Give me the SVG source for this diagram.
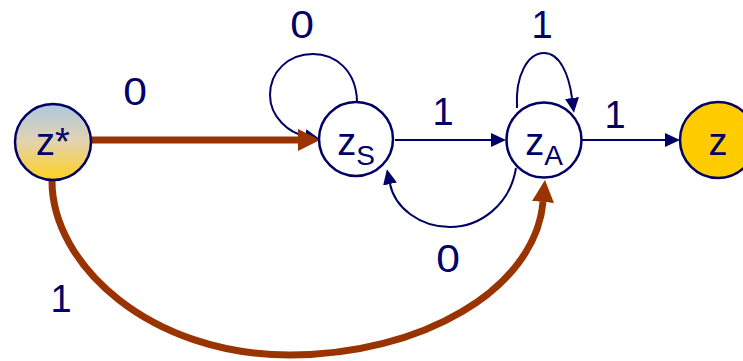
<svg xmlns="http://www.w3.org/2000/svg" width="743" height="361" viewBox="0 0 743 361">
<style>
.node{stroke:#000066;stroke-width:2.5}
.lbl{font-family:"Liberation Sans",Arial,sans-serif;font-size:38px;fill:#000066;text-anchor:middle}
.ntxt{font-family:"Liberation Sans",Arial,sans-serif;font-size:38px;fill:#000066;text-anchor:middle}
.nav{fill:none;stroke:#000066;stroke-width:2}
.brn{fill:none;stroke:#993300;stroke-width:7}
</style>
<defs>
<linearGradient id="g" x1="0" y1="0" x2="0" y2="1">
<stop offset="0" stop-color="#AEC8DF"/>
<stop offset="0.5" stop-color="#E3D3AE"/>
<stop offset="1" stop-color="#FFD11C"/>
</linearGradient>
<marker id="an" markerUnits="userSpaceOnUse" markerWidth="15" markerHeight="14" refX="0" refY="7" orient="auto" viewBox="0 0 15 14">
<path d="M0,0 L15,7 L0,14 z" fill="#000066"/>
</marker>
<marker id="ab" markerUnits="userSpaceOnUse" markerWidth="22" markerHeight="22" refX="0" refY="11" orient="auto" viewBox="0 0 22 22">
<path d="M0,0 L22,11 L0,22 z" fill="#993300"/>
</marker>
</defs>
<g id="connectors">
<path class="nav" d="M357,101 C356,70 335,54 313,54 C288,54 270,72 270,95 C270,118 290,133 305,136" marker-end="url(#an)"/>
<path class="nav" d="M395,140 L491,140" marker-end="url(#an)"/>
<path class="nav" d="M517,108 C515,75 528,53 544,53 C560,53 569,75 572,98" marker-end="url(#an)"/>
<path class="nav" d="M582,140 L665,140" marker-end="url(#an)"/>
<path class="nav" d="M516,168 C510,205 480,227 450,227 C420,227 395,208 390,184" marker-end="url(#an)"/>
<path class="brn" d="M91,140 L298,140" marker-end="url(#ab)"/>
<path class="brn" d="M52,181 C52,265 150,355 290,355 C420,355 535,290 543,202" marker-end="url(#ab)"/>
<text class="lbl" transform="translate(135,105) scale(1.12,1)">0</text>
<text class="lbl" transform="translate(302,38) scale(1.12,1)">0</text>
<text class="lbl" x="443" y="125">1</text>
<text class="lbl" x="542" y="38">1</text>
<text class="lbl" x="615" y="128">1</text>
<text class="lbl" transform="translate(448,272) scale(1.12,1)">0</text>
<text class="lbl" x="61" y="312">1</text>
</g>
<g id="zstar">
<circle class="node" cx="53" cy="142" r="38" fill="url(#g)"/>
<text class="ntxt" x="53" y="155">z*</text>
</g>
<g id="zS">
<circle class="node" cx="356" cy="139" r="37" fill="#FFFFFF"/>
<text class="ntxt" x="356" y="155">z<tspan font-size="28" dy="10">S</tspan></text>
</g>
<g id="zA">
<circle class="node" cx="544" cy="140" r="37.5" fill="#FFFFFF"/>
<text class="ntxt" x="544" y="155">z<tspan font-size="28" dy="10">A</tspan></text>
</g>
<g id="z">
<circle class="node" cx="718" cy="140" r="38" fill="#FFCC00"/>
<text class="ntxt" x="718" y="155">z</text>
</g>
</svg>
